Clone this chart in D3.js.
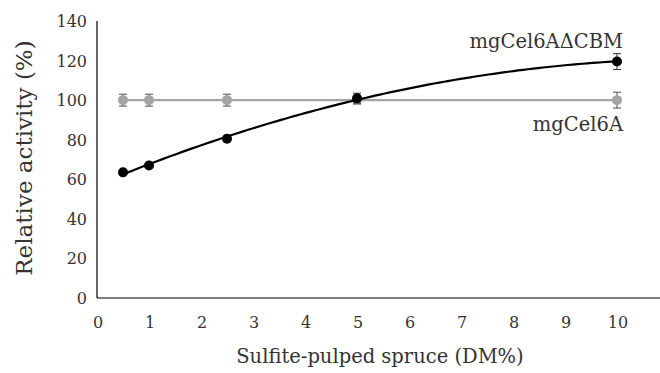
<!DOCTYPE html>
<html>
<head>
<meta charset="utf-8">
<script src="https://cdn.jsdelivr.net/npm/d3@7/dist/d3.min.js"></script>
<style>
  html, body { margin: 0; padding: 0; background: #fff; }
  svg { display: block; font-family: "DejaVu Serif", "Liberation Serif", serif; }
</style>
</head>
<body>
<div id="chart"></div>
<script>
// Data
const dmLevels = [0.5, 1, 2.5, 5, 10]
const fullEnzyme = [100, 100, 100, 100, 100]        // mgCel6A
const fullEnzymeErr = [3, 3, 3, 2, 4]
const truncated = [63.5, 67, 80.5, 101, 119.5]       // mgCel6AΔCBM
const truncatedErr = [1, 1, 1, 2.5, 4]
const xTicks = [0, 1, 2, 3, 4, 5, 6, 7, 8, 9, 10]
const yTicks = [0, 20, 40, 60, 80, 100, 120, 140]

const GREY = "#a5a5a5"
const BLACK = "#000000"
const TEXT = "#333333"

const width = 660, height = 373
const margin = { top: 21, right: 0, bottom: 75, left: 97 }

const svg = d3.select("#chart").append("svg")
  .attr("width", width)
  .attr("height", height)

const x = d3.scaleLinear().domain([0, 10]).range([margin.left, 617])
const y = d3.scaleLinear().domain([0, 140]).range([298, margin.top])

// Axes (no tick marks, only the lines and labels)
svg.append("line")
  .attr("x1", x(0)).attr("x2", width)
  .attr("y1", y(0)).attr("y2", y(0))
  .attr("stroke", "#000").attr("stroke-width", 1.2)

svg.append("line")
  .attr("x1", x(0)).attr("x2", x(0))
  .attr("y1", y(0)).attr("y2", y(140))
  .attr("stroke", "#000").attr("stroke-width", 1.2)

svg.append("g")
  .selectAll("text")
  .data(yTicks)
  .enter().append("text")
  .attr("x", x(0) - 10)
  .attr("y", d => y(d) + 6)
  .attr("text-anchor", "end")
  .attr("font-size", 16)
  .attr("fill", TEXT)
  .text(d => d)

svg.append("g")
  .selectAll("text")
  .data(xTicks)
  .enter().append("text")
  .attr("x", d => x(d) + 1)
  .attr("y", y(0) + 30)
  .attr("text-anchor", "middle")
  .attr("font-size", 16)
  .attr("fill", TEXT)
  .text(d => d)

// Axis titles
svg.append("text")
  .attr("transform", `translate(32, 158) rotate(-90)`)
  .attr("text-anchor", "middle")
  .attr("font-size", 23)
  .attr("fill", TEXT)
  .text("Relative activity (%)")

svg.append("text")
  .attr("x", 380).attr("y", 363)
  .attr("text-anchor", "middle")
  .attr("font-size", 19.5)
  .attr("fill", TEXT)
  .text("Sulfite-pulped spruce (DM%)")

// Error bar helper
function errorBars(values, errs, color) {
  const g = svg.append("g").attr("stroke", color).attr("stroke-width", 1)
  dmLevels.forEach((d, i) => {
    const cx = x(d), top = y(values[i] + errs[i]), bot = y(values[i] - errs[i])
    g.append("line").attr("x1", cx).attr("x2", cx).attr("y1", top).attr("y2", bot)
    g.append("line").attr("x1", cx - 4).attr("x2", cx + 4).attr("y1", top).attr("y2", top)
    g.append("line").attr("x1", cx - 4).attr("x2", cx + 4).attr("y1", bot).attr("y2", bot)
  })
}

// mgCel6A: straight grey line
const line = d3.line().x(d => x(d[0])).y(d => y(d[1]))
svg.append("path")
  .datum(dmLevels.map((d, i) => [d, fullEnzyme[i]]))
  .attr("d", line)
  .attr("fill", "none")
  .attr("stroke", GREY)
  .attr("stroke-width", 2.2)

errorBars(fullEnzyme, fullEnzymeErr, "#4d4d4d")

svg.append("g")
  .selectAll("circle")
  .data(dmLevels.map((d, i) => [d, fullEnzyme[i]]))
  .enter().append("circle")
  .attr("cx", d => x(d[0])).attr("cy", d => y(d[1]))
  .attr("r", 5)
  .attr("fill", GREY)

// mgCel6AΔCBM: 2nd-order polynomial trendline (least squares fit of the points)
function quadFit(xs, ys) {
  let s = [0, 0, 0, 0, 0], t = [0, 0, 0]
  xs.forEach((xv, i) => {
    for (let k = 0; k < 5; k++) s[k] += Math.pow(xv, k)
    for (let k = 0; k < 3; k++) t[k] += ys[i] * Math.pow(xv, k)
  })
  const A = [[s[0], s[1], s[2], t[0]], [s[1], s[2], s[3], t[1]], [s[2], s[3], s[4], t[2]]]
  for (let c = 0; c < 3; c++) {
    for (let r = c + 1; r < 3; r++) {
      const f = A[r][c] / A[c][c]
      for (let k = c; k < 4; k++) A[r][k] -= f * A[c][k]
    }
  }
  const b = [0, 0, 0]
  for (let r = 2; r >= 0; r--) {
    let v = A[r][3]
    for (let k = r + 1; k < 3; k++) v -= A[r][k] * b[k]
    b[r] = v / A[r][r]
  }
  return xv => b[0] + b[1] * xv + b[2] * xv * xv
}

const fit = quadFit(dmLevels, truncated)
const fitX = d3.range(0, 101).map(i => dmLevels[0] + (dmLevels[4] - dmLevels[0]) * i / 100)
svg.append("path")
  .datum(fitX.map(v => [v, fit(v)]))
  .attr("d", line)
  .attr("fill", "none")
  .attr("stroke", BLACK)
  .attr("stroke-width", 2.2)

errorBars(truncated, truncatedErr, "#333")

svg.append("g")
  .selectAll("circle")
  .data(dmLevels.map((d, i) => [d, truncated[i]]))
  .enter().append("circle")
  .attr("cx", d => x(d[0])).attr("cy", d => y(d[1]))
  .attr("r", 5)
  .attr("fill", BLACK)

// Series labels
svg.append("text")
  .attr("x", 623).attr("y", 48)
  .attr("text-anchor", "end")
  .attr("font-size", 19.5)
  .attr("fill", TEXT)
  .text("mgCel6AΔCBM")

svg.append("text")
  .attr("x", 623).attr("y", 131)
  .attr("text-anchor", "end")
  .attr("font-size", 19.5)
  .attr("fill", TEXT)
  .text("mgCel6A")
</script>
</body>
</html>
